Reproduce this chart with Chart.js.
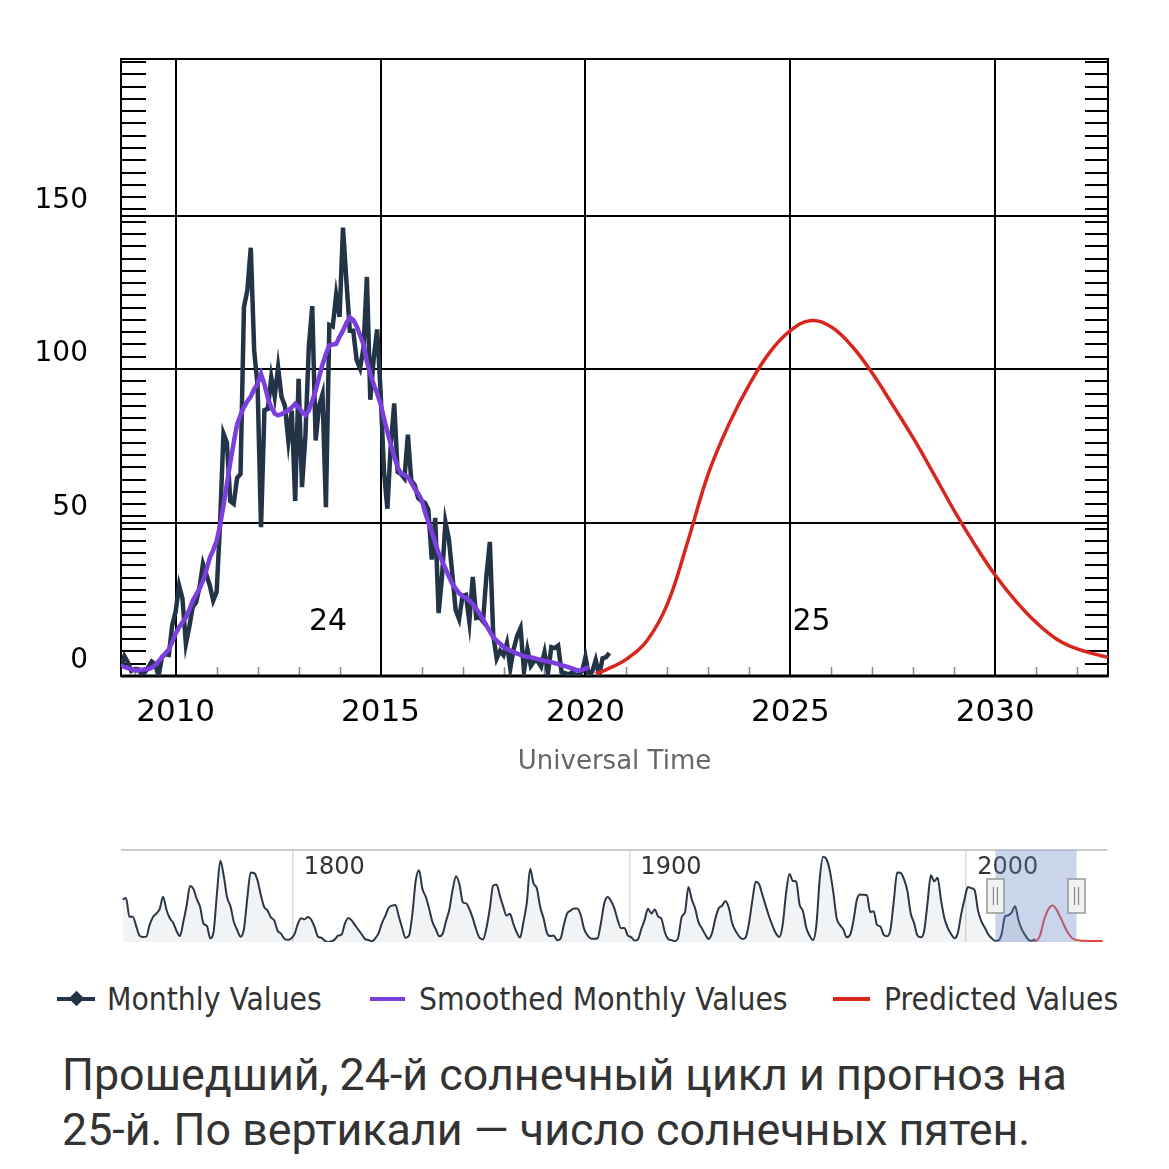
<!DOCTYPE html>
<html><head><meta charset="utf-8">
<script src="https://cdn.jsdelivr.net/npm/chart.js@4.4.1/dist/chart.umd.min.js"></script>
<style>
html,body{margin:0;padding:0;background:#fff;}
body{width:1169px;height:1169px;position:relative;overflow:hidden;}
canvas{position:absolute;left:0;}
#main{top:0;}
#nav{top:840px;}
.leg{position:absolute;top:979px;height:40px;line-height:40px;font-family:'DejaVu Sans Condensed','DejaVu Sans',sans-serif;font-stretch:condensed;font-size:31.5px;color:#333;white-space:nowrap;}
.leg .mk{position:absolute;left:0;top:18px;height:4px;}
.leg .dm{position:absolute;top:14px;width:11px;height:11px;transform:rotate(45deg);}
.leg .tx{position:absolute;top:0;}
#caption{position:absolute;left:62px;top:1047px;font-family:Roboto,'Noto Sans',sans-serif;font-size:44.8px;line-height:55px;color:#333;white-space:nowrap;}
</style></head>
<body>
<canvas id="main" width="1169" height="800" style="width:1169px;height:800px"></canvas>
<canvas id="nav" width="1169" height="110" style="width:1169px;height:110px"></canvas>
<div id="legend"></div>
<div id="caption">Прошедший, 24-й солнечный цикл и прогноз на<br>25-й. По вертикали — число солнечных пятен.</div>
<script>
// ---------------- DATA ----------------
const seriesNames = ['Monthly Values', 'Smoothed Monthly Values', 'Predicted Values'];
const seriesColors = ['#243447', '#7b3fe0', '#d8261c'];

// monthly values, first month = Sep 2008
const monthlyStartYear = 2008, monthlyStartMonth = 9;
const monthlyValues = [
  3.0, 6.5, 4.5, 1.7,
  2.3, 2.2, 0.8, 1.2, 2.9, 4.7, 3.9, 0.0, 6.2, 7.1, 6.9, 16.6,
  21.0, 29.5, 25.2, 10.5, 16.0, 22.5, 24.0, 29.0, 36.5, 33.0, 29.5, 24.6,
  27.3, 49.6, 79.0, 76.1, 57.0, 56.1, 64.5, 65.8, 120.1, 125.7, 139.5, 106.0,
  94.4, 48.5, 86.6, 87.0, 97.3, 91.0, 100.6, 91.0, 88.0, 76.7, 86.5, 57.0,
  96.8, 61.5, 78.3, 107.3, 120.5, 76.7, 88.0, 91.8, 55.0, 114.4, 113.9, 124.2,
  117.0, 146.1, 128.7, 112.5, 112.5, 102.9, 100.2, 106.9, 130.0, 90.0, 103.6, 112.9,
  93.0, 66.7, 54.5, 75.3, 88.8, 66.5, 65.8, 64.4, 78.6, 63.6, 62.2, 58.0,
  57.0, 56.4, 54.1, 37.9, 51.5, 20.5, 32.4, 50.2, 44.6, 33.4, 21.4, 18.5,
  26.1, 26.4, 17.7, 32.3, 18.9, 19.2, 17.8, 32.6, 43.7, 13.2, 5.7, 8.2,
  6.8, 10.7, 2.5, 8.9, 13.1, 15.6, 1.6, 8.7, 3.3, 4.9, 4.9, 3.1,
  7.7, 0.8, 9.4, 9.1, 9.9, 1.2, 0.9, 0.5, 1.1, 0.4, 0.5, 1.5,
  6.2, 0.2, 1.5, 5.2, 0.2, 5.8, 6.1, 7.5
];

// smoothed monthly values, first month = Sep 2008
const smoothedValues = [
  3.4, 3.0, 2.6, 2.2,
  1.8, 1.9, 2.0, 2.2, 2.3, 2.7, 3.6, 4.8, 6.0, 7.4, 8.6, 11.0,
  13.8, 15.9, 17.5, 19.0, 21.5, 24.5, 26.5, 28.5, 31.0, 34.5, 38.5, 41.0,
  44.0, 49.0, 55.5, 62.5, 69.5, 76.0, 82.0, 85.0, 87.6, 89.5, 91.0, 93.5,
  95.2, 98.4, 95.0, 90.5, 87.5, 85.5, 84.9, 85.3, 86.0, 86.5, 87.5, 88.7,
  87.5, 86.0, 85.0, 86.5, 89.7, 93.0, 97.3, 101.5, 104.9, 107.7, 108.0, 108.2,
  110.5, 112.5, 115.0, 116.9, 116.0, 114.0, 111.0, 108.0, 102.5, 98.5, 95.0, 92.0,
  88.7, 84.0, 79.5, 75.5, 71.5, 68.0, 66.0, 65.5, 64.8, 63.0, 61.0, 59.5,
  57.5, 53.5, 50.0, 47.0, 43.5, 40.0, 37.6, 35.0, 32.5, 30.0, 28.5, 27.0,
  26.0, 25.5, 24.6, 23.5, 22.0, 20.3, 18.5, 16.5, 14.5, 12.6, 11.5, 10.5,
  9.5, 8.8, 8.3, 7.8, 7.3, 6.9, 6.5, 6.2, 6.1, 5.8, 5.5, 5.2,
  4.9, 4.7, 4.5, 4.2, 3.9, 3.5, 3.2, 2.9, 2.5, 2.1, 1.8, 1.9,
  2.4, 2.9
];

// predicted values (cycle 25)
const predYears = [2020.25, 2020.5, 2021.0, 2021.5, 2022.0, 2022.5, 2023.0, 2023.5, 2024.0, 2024.5,
  2025.0, 2025.5, 2026.0, 2026.5, 2027.0, 2027.5, 2028.0, 2028.5, 2029.0, 2029.5,
  2030.0, 2030.5, 2031.0, 2031.5, 2032.0, 2032.5, 2032.75, 2033.5, 2034.5, 2036.0, 2038.0, 2040.5];
const predValues = [0.8, 2.0, 5.5, 11.5, 23.5, 44.0, 66.0, 82.0, 95.0, 105.5,
  112.5, 115.8, 113.7, 107.5, 98.6, 88.2, 77.5, 65.8, 53.8, 42.8,
  32.8, 24.4, 17.4, 12.0, 8.8, 6.9, 6.1, 4.8, 3.8, 3.2, 3.0, 3.0];

// yearly values for the navigator, first year = 1749
const navStartYear = 1749;
const navValues = [
  134.7, 139.0, 79.5, 79.7, 51.2, 20.3, 16.0, 17.0, 54.0, 79.3,
  90.0, 104.8, 143.2, 102.0, 75.2, 60.7, 34.8, 19.0, 63.0, 116.3,
  176.8, 168.0, 136.0, 110.8, 58.0, 51.0, 11.7, 33.0, 154.2, 257.3,
  209.8, 141.3, 113.5, 64.2, 38.0, 17.0, 40.2, 138.2, 220.0, 218.2,
  196.8, 149.8, 111.0, 100.0, 78.2, 68.3, 35.5, 26.7, 10.7, 6.8,
  11.3, 24.2, 56.7, 75.0, 71.8, 79.2, 70.3, 46.8, 16.8, 13.5,
  4.2, 0.0, 2.3, 8.3, 20.3, 23.2, 59.0, 76.3, 68.3, 52.9,
  38.5, 24.2, 9.2, 6.3, 2.2, 11.4, 28.2, 59.9, 83.0, 108.5,
  115.2, 117.4, 80.8, 44.3, 13.4, 19.5, 85.8, 192.7, 227.3, 168.7,
  143.0, 105.5, 63.3, 40.3, 18.1, 25.1, 65.8, 102.7, 166.3, 208.3,
  182.5, 126.3, 122.0, 102.7, 74.1, 39.0, 12.7, 8.2, 43.4, 104.4,
  178.3, 182.2, 146.6, 112.1, 83.5, 89.2, 57.8, 30.7, 13.9, 62.8,
  123.6, 232.0, 185.3, 169.2, 110.1, 74.5, 28.3, 18.9, 20.7, 5.7,
  10.0, 53.7, 90.5, 99.0, 106.1, 105.8, 86.3, 42.4, 21.8, 11.2,
  10.4, 11.8, 59.5, 121.7, 142.0, 130.0, 106.6, 69.4, 43.8, 44.4,
  20.2, 15.7, 4.6, 8.5, 40.8, 70.1, 105.5, 90.1, 102.8, 80.9,
  73.2, 30.9, 9.5, 6.0, 2.4, 16.1, 79.0, 95.0, 173.6, 134.6,
  105.7, 62.7, 43.5, 23.7, 9.7, 27.9, 74.0, 106.5, 114.7, 129.7,
  108.2, 59.4, 35.1, 18.6, 9.2, 14.6, 60.2, 132.8, 190.6, 182.6,
  148.0, 113.0, 79.2, 50.8, 27.1, 16.1, 55.3, 154.3, 214.7, 193.0,
  190.7, 118.9, 98.3, 45.0, 20.1, 6.6, 54.2, 200.7, 269.3, 261.7,
  225.1, 159.0, 76.4, 53.4, 39.9, 15.0, 22.0, 66.8, 132.9, 150.0,
  149.4, 148.0, 94.4, 97.6, 54.1, 49.2, 22.5, 18.4, 39.3, 131.0,
  220.1, 218.9, 198.9, 162.4, 91.0, 60.5, 20.6, 14.8, 33.9, 123.0,
  211.1, 191.8, 203.3, 133.0, 76.1, 44.9, 25.1, 11.6, 28.9, 88.3,
  136.3, 173.9, 170.4, 163.6, 99.3, 65.3, 45.8, 24.7, 12.6, 4.2,
  4.8, 24.9, 80.8, 84.5, 94.0, 113.3, 69.8, 39.8, 21.7, 7.0,
  3.6, 8.8
];

// axes
const xMin = 2008 + 8 / 12, xMax = 2032.75;
const xMajorTicks = [2010, 2015, 2020, 2025, 2030];
const yMin = 0, yMax = 201;
const yMajorTicks = [0, 50, 100, 150];
const yMinorStep = 4;
const navXMin = 1749, navXMax = 2041.8, navYMax = 291;
const navTicks = [1800, 1900, 2000];

// cycle labels
const cycleNames = ['24', '25'];
const cycleX = [2013.72, 2025.05];
const cycleY = [17.5, 17.5];
const cycleAlign = ['center', 'left'];

// --------------- BUILD ----------------
const monthX = i => monthlyStartYear + (monthlyStartMonth - 1 + i) / 12;
const monthlyPoints = monthlyValues.map((v, i) => ({x: monthX(i), y: v}));
const smoothedPoints = smoothedValues.map((v, i) => ({x: monthX(i), y: v}));
const predPoints = predYears.map((yr, i) => ({x: yr, y: predValues[i]}));
const navPoints = navValues.map((v, i) => ({x: navStartYear + i + 0.5, y: v}));

Chart.defaults.font.family = "'DejaVu Sans', sans-serif";

const decor = {
  id: 'decor',
  beforeDatasetsDraw(chart) {
    const {ctx, chartArea: a, scales: {x, y}} = chart;
    ctx.save();
    ctx.strokeStyle = '#000'; ctx.lineWidth = 2;
    for (let v = yMin; v <= yMax; v += yMinorStep) {
      const py = Math.round(y.getPixelForValue(v));
      ctx.beginPath();
      ctx.moveTo(a.left, py); ctx.lineTo(a.left + 25, py);
      ctx.moveTo(a.right - 23, py); ctx.lineTo(a.right, py);
      ctx.stroke();
    }
    ctx.strokeStyle = '#8a8a8a'; ctx.lineWidth = 1.5;
    for (let yr = Math.ceil(xMin); yr <= xMax; yr++) {
      if (xMajorTicks.includes(yr)) continue;
      const px = Math.round(x.getPixelForValue(yr)) + 0.5;
      ctx.beginPath(); ctx.moveTo(px, a.bottom); ctx.lineTo(px, a.bottom - 9); ctx.stroke();
    }
    ctx.fillStyle = '#000'; ctx.font = "30px 'DejaVu Sans'"; ctx.textBaseline = 'middle';
    cycleNames.forEach((n, i) => {
      ctx.textAlign = cycleAlign[i];
      ctx.fillText(n, x.getPixelForValue(cycleX[i]), y.getPixelForValue(cycleY[i]));
    });
    ctx.strokeStyle = '#000'; ctx.lineWidth = 2;
    ctx.strokeRect(a.left, a.top, a.right - a.left, a.bottom - a.top);
    ctx.lineWidth = 3;
    ctx.beginPath(); ctx.moveTo(a.left, a.bottom); ctx.lineTo(a.right, a.bottom); ctx.stroke();
    ctx.restore();
  }
};

new Chart(document.getElementById('main'), {
  type: 'line',
  data: {datasets: [
    {label: seriesNames[2], data: predPoints, borderColor: seriesColors[2], borderWidth: 3.5, pointRadius: 0, tension: 0.4, order: 1},
    {label: seriesNames[1], data: smoothedPoints, borderColor: seriesColors[1], borderWidth: 4.5, pointRadius: 0, order: 2},
    {label: seriesNames[0], data: monthlyPoints, borderColor: seriesColors[0], borderWidth: 4.5, pointRadius: 0, order: 3}
  ]},
  options: {
    responsive: false, animation: false,
    layout: {padding: {top: 59, right: 61, left: 0, bottom: 0}},
    plugins: {legend: {display: false}, tooltip: {enabled: false}},
    scales: {
      x: {
        type: 'linear', min: xMin, max: xMax,
        afterBuildTicks: s => { s.ticks = xMajorTicks.map(v => ({value: v})); },
        afterFit: s => { s.height = 124; },
        grid: {color: '#000', lineWidth: 2, drawTicks: false},
        border: {display: false},
        ticks: {color: '#000', font: {size: 31}, padding: 18, maxRotation: 0, callback: v => String(v)},
        title: {display: true, text: 'Universal Time', color: '#666', font: {size: 26}, padding: {top: 0, bottom: 22}}
      },
      y: {
        min: yMin, max: yMax,
        afterBuildTicks: s => { s.ticks = yMajorTicks.map(v => ({value: v})); },
        afterFit: s => { s.width = 121; },
        grid: {color: '#000', lineWidth: 2, drawTicks: false},
        border: {display: false},
        ticks: {color: '#000', font: {size: 28}, padding: 33, labelOffset: -15, callback: v => String(v)}
      }
    }
  },
  plugins: [decor]
});

const navDecor = {
  id: 'navDecor',
  beforeDatasetsDraw(chart) {
    const {ctx, chartArea: a, scales: {x}} = chart;
    ctx.save();
    ctx.fillStyle = '#333'; ctx.font = "24px 'DejaVu Sans'"; ctx.textBaseline = 'middle'; ctx.textAlign = 'left';
    navTicks.forEach(t => ctx.fillText(String(t), x.getPixelForValue(t) + 11, a.top + 18));
    ctx.restore();
  },
  afterDatasetsDraw(chart) {
    const {ctx, chartArea: a, scales: {x}} = chart;
    ctx.save();
    ctx.strokeStyle = '#cccccc'; ctx.lineWidth = 2;
    ctx.beginPath(); ctx.moveTo(a.left, a.top); ctx.lineTo(a.right, a.top); ctx.stroke();
    const x0 = x.getPixelForValue(xMin), x1 = x.getPixelForValue(xMax);
    ctx.fillStyle = 'rgba(102,133,194,0.35)';
    ctx.fillRect(x0, a.top, x1 - x0, a.bottom - a.top);
    const cy = (a.top + a.bottom) / 2;
    [x0, x1].forEach(px => {
      ctx.fillStyle = '#f2f2f2'; ctx.strokeStyle = '#999'; ctx.lineWidth = 1.5;
      ctx.fillRect(px - 8.5, cy - 17, 17, 34);
      ctx.strokeRect(px - 8.5, cy - 17, 17, 34);
      ctx.strokeStyle = '#888'; ctx.lineWidth = 1.2;
      ctx.beginPath();
      ctx.moveTo(px - 2, cy - 9); ctx.lineTo(px - 2, cy + 9);
      ctx.moveTo(px + 2, cy - 9); ctx.lineTo(px + 2, cy + 9);
      ctx.stroke();
    });
    ctx.restore();
  }
};

new Chart(document.getElementById('nav'), {
  type: 'line',
  data: {datasets: [
    {data: predPoints, borderColor: '#e0453c', borderWidth: 2, pointRadius: 0, tension: 0.4, fill: false, order: 1},
    {data: navPoints, borderColor: '#2c3745', borderWidth: 2, pointRadius: 0, cubicInterpolationMode: 'monotone', fill: 'origin', backgroundColor: 'rgba(60,80,120,0.07)', order: 2}
  ]},
  options: {
    responsive: false, animation: false,
    layout: {padding: {left: 121, right: 62, top: 10, bottom: 8}},
    plugins: {legend: {display: false}, tooltip: {enabled: false}},
    scales: {
      x: {
        type: 'linear', min: navXMin, max: navXMax,
        afterBuildTicks: s => { s.ticks = navTicks.map(v => ({value: v})); },
        afterFit: s => { s.height = 0; },
        grid: {color: '#dcdcdc', lineWidth: 1.5, drawTicks: false},
        border: {display: false},
        ticks: {display: false}
      },
      y: {min: 0, max: navYMax, display: false}
    }
  },
  plugins: [navDecor]
});

// ---------------- LEGEND ----------------
const legendLeft = [57, 370, 833];
const legendMarkW = [38, 35, 37];
const legendTextOff = [50, 49, 51];
const legend = document.getElementById('legend');
seriesNames.forEach((name, i) => {
  const item = document.createElement('div');
  item.className = 'leg';
  item.style.left = legendLeft[i] + 'px';
  let html = `<div class="mk" style="width:${legendMarkW[i]}px;background:${seriesColors[i]}"></div>`;
  if (i === 0) html += `<div class="dm" style="left:${legendMarkW[i] / 2 - 5.5}px;background:${seriesColors[i]}"></div>`;
  html += `<span class="tx" style="left:${legendTextOff[i]}px">${name}</span>`;
  item.innerHTML = html;
  legend.appendChild(item);
});
</script>
</body></html>
